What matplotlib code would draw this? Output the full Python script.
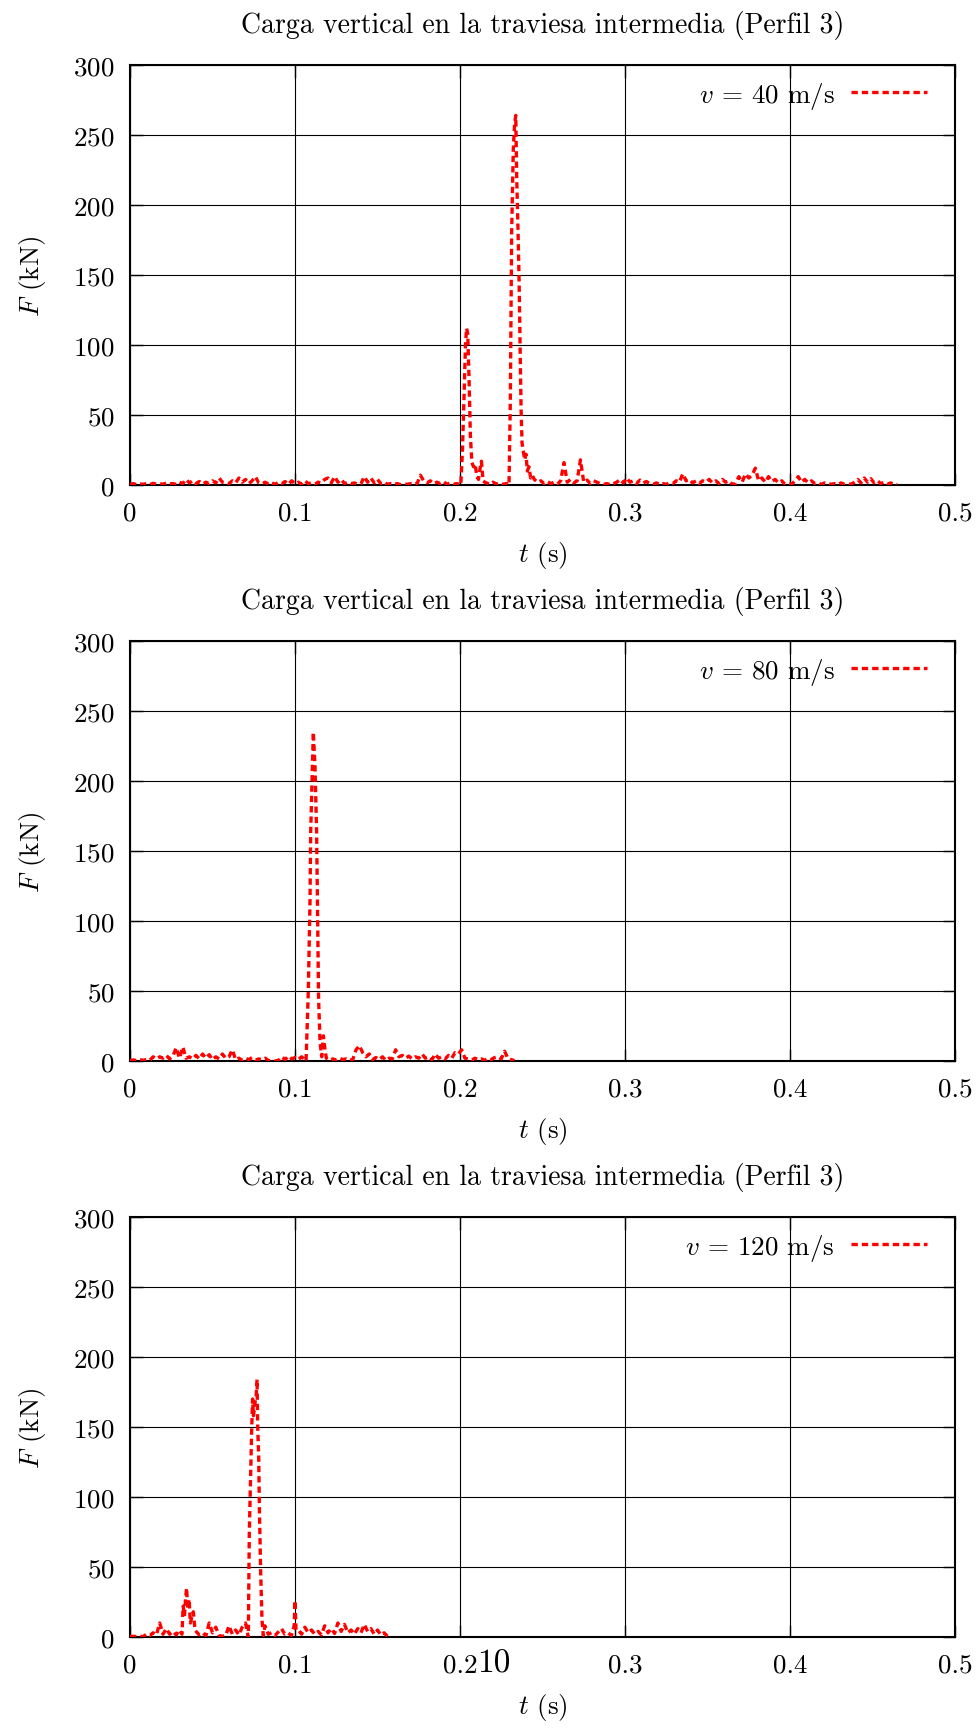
import numpy as np
import matplotlib
matplotlib.use("Agg")
import matplotlib.pyplot as plt

plt.rcParams["font.family"] = "cmr10"
plt.rcParams["mathtext.fontset"] = "cm"
plt.rcParams["axes.formatter.use_mathtext"] = True
plt.rcParams["axes.unicode_minus"] = False

# ============================
# DATA
# ============================
STEP = 0.002   # spacing of the low-level noise samples (s)

# --- v = 40 m/s ---
p1_noise_a = [0.5, 1, 0.3, 0.8, 0.5, 1, 0.3, 1.2, 0.6, 1,
              0.5, 1.5, 0.8, 1, 0.5, 2, 1, 4, 1.5, 3,
              1, 2.5, 0.8, 2, 1, 3, 1.5, 5, 2, 1.5,
              1, 3, 1.5, 5, 2, 4, 1, 3, 6, 1.5,
              1, 2, 0.5, 1.5, 0.5, 2, 1, 2.5, 0.5, 3,
              1, 2, 0.5, 3, 1, 1.5, 0.5, 2, 1.5, 4,
              5, 1.5, 6, 2, 4, 1, 2, 1, 1.5, 0.5,
              1, 6, 2, 5, 1.5, 4, 1, 2, 0.5, 1,
              0.5, 1, 0.3, 0.8, 0.5, 1, 0.5, 1, 7, 3,
              1.5, 3, 1, 2, 1, 2.5, 0.5, 1.5, 0.5, 1]
p1_peak1_t = [0.2005, 0.2015, 0.2025, 0.2033, 0.2040, 0.2047, 0.2055, 0.2063, 0.2072,
              0.2082, 0.2092, 0.2102, 0.2112, 0.2122, 0.2130, 0.2140, 0.2150]
p1_peak1_f = [0, 25, 65, 100, 112, 108, 75, 35, 16, 13, 15, 6, 4, 12, 17, 3, 2]
p1_noise_b = [1.5, 0.5, 2, 0.8, 1.5, 0.5, 1]
p1_peak2_t = [0.2297, 0.2305, 0.2313, 0.2323, 0.2331, 0.2338, 0.2344, 0.2352, 0.2358,
              0.2364, 0.2370, 0.2376, 0.2384, 0.2392, 0.2400, 0.2408, 0.2418, 0.2428, 0.2438]
p1_peak2_f = [0, 60, 180, 240, 258, 264, 218, 180, 147, 100, 55, 30, 24, 18, 22, 10, 13, 5, 7]
p1_noise_c = [4, 2, 3, 1, 2.5, 1, 2, 0.5, 3, 16,
              2, 4, 1.5, 3, 18, 2, 3.5, 1, 3, 2,
              1, 0.5, 1, 0.3, 1, 2, 4, 1.5, 5, 2,
              3, 1, 3.5, 1.5, 2.5, 1, 0.5, 1.5, 0.5, 1,
              0.5, 1.5, 1, 3, 2, 8, 3, 4, 1.5, 3,
              1, 3, 2, 4, 1.5, 3, 1, 4, 2, 3,
              0.5, 1, 6, 2, 8, 5, 7, 12, 3, 5,
              2, 6, 2.5, 4, 1.5, 3, 0.5, 1, 0.5, 3,
              6, 2, 4, 1.5, 3, 1, 1.5, 0.5, 1.5, 1,
              0.5, 1, 0.5, 1.5, 0.5, 1, 0.5, 2, 4, 1.5,
              5, 2, 4.5, 1.5, 3, 1, 2, 0.5, 1.5, 0.5,
              0.3]

# --- v = 80 m/s ---
p2_noise_a = [0.3, 0.8, 0.3, 1, 0.5, 1, 0.5, 3, 1.5, 3,
              2, 4, 1.5, 3.5, 9.5, 2, 10, 2, 3, 1.5,
              4, 1.5, 5, 2, 4.5, 1, 3, 1.5, 5, 2,
              3, 8, 1, 2, 0.5, 2, 1, 2.5, 0.5, 1.5,
              1, 2, 0.3, 0, 0, 0.5, 3, 1, 3.5, 1.5,
              2.5, 1, 3]
p2_peak_t = [0.1067, 0.1081, 0.1091, 0.1095, 0.1103, 0.1111, 0.1121, 0.1131, 0.1137,
             0.1143, 0.1152, 0.1162, 0.1172, 0.1182]
p2_peak_f = [0, 51, 115, 163, 199, 235, 211, 163, 104, 44, 13, 3, 18, 8]
p2_noise_b = [2, 0.5, 1.5, 0.5, 2, 1, 1.5, 0.5, 1, 8,
              11, 6, 3, 5, 1, 2.5, 1, 3, 0.5, 2,
              1.5, 8, 3, 4, 2, 3.5, 1.5, 3, 2, 5,
              2, 3, 1, 5, 2, 3, 1.5, 4, 2, 6,
              5, 8, 2, 1.5, 0.5, 2, 1, 1.5, 0.5, 2,
              1, 2.5, 3, 1.5, 7, 2, 1, 0.3]

# --- v = 120 m/s ---
p3_noise_a = [0.3, 0.5, 0.3, 0.5, 0.3, 2, 1, 3, 1.5, 10, 2, 6, 2, 4, 1.5, 5]
p3_peak1_t = [0.0315, 0.0322, 0.0330, 0.0337, 0.0343, 0.0350, 0.0358, 0.0366, 0.0374,
              0.0384, 0.0394]
p3_peak1_f = [2, 22, 15, 28, 35, 20, 27, 10, 14, 18, 5]
p3_noise_b = [4, 1.5, 3, 1, 10, 3, 7, 1, 0.5, 1, 8, 2, 5, 1.5, 7, 10]
p3_peak2_t = [0.0717, 0.0723, 0.0731, 0.0737, 0.0743, 0.0748, 0.0753, 0.0758, 0.0764,
              0.0770, 0.0774, 0.0780, 0.0784, 0.0792, 0.0800, 0.0808]
p3_peak2_f = [0, 74, 115, 146, 170, 158, 162, 168, 171, 184, 150, 129, 93, 46, 12, 1]
p3_noise_c = [8, 2, 3, 1, 3.5, 6, 2, 3, 1]
p3_spike_t = [0.0995, 0.1000, 0.1006]
p3_spike_f = [8, 26, 5]
p3_noise_d = [5, 2, 7, 3, 5, 2, 4, 1.5, 8, 3,
              6, 2.5, 10, 4, 9, 3, 5, 2, 6, 3,
              9, 4, 6, 2, 5, 1.5, 3, 0.5]

speeds = [40, 80, 120]


def even(t0, vals):
    return t0 + STEP * np.arange(len(vals)), np.asarray(vals, dtype=float)


def join(*parts):
    t = np.concatenate([np.asarray(p[0], dtype=float) for p in parts])
    f = np.concatenate([np.asarray(p[1], dtype=float) for p in parts])
    return t, f


series = [
    join(even(0.0, p1_noise_a), (p1_peak1_t, p1_peak1_f), even(0.216, p1_noise_b),
         (p1_peak2_t, p1_peak2_f), even(0.245, p1_noise_c)),
    join(even(0.0, p2_noise_a), (p2_peak_t, p2_peak_f), even(0.119, p2_noise_b)),
    join(even(0.0, p3_noise_a), (p3_peak1_t, p3_peak1_f), even(0.040, p3_noise_b),
         (p3_peak2_t, p3_peak2_f), even(0.0818, p3_noise_c), (p3_spike_t, p3_spike_f),
         even(0.102, p3_noise_d)),
]

# ============================
# PLOT
# ============================
W, H = 978, 1731
fig = plt.figure(figsize=(W / 100, H / 100), dpi=100)

tops = [66, 642, 1218]
ax_h = 420
FS = 19.5

for (t, f), v, top in zip(series, speeds, tops):
    ax = fig.add_axes([130 / W, 1 - (top + ax_h) / H, 825 / W, ax_h / H])
    ax.plot(t, f, color="red", lw=2.4, dashes=(1.9, 1.2), dash_capstyle="butt",
            label=rf"$v$ = {v} m/s", zorder=3)
    ax.set_xlim(0, 0.5)
    ax.set_ylim(0, 300)
    ax.set_xticks(np.arange(0, 0.51, 0.1))
    ax.set_xticklabels(["0", "0.1", "0.2", "0.3", "0.4", "0.5"])
    ax.set_yticks(np.arange(0, 301, 50))
    ax.grid(True, color="black", lw=0.8)
    ax.tick_params(direction="in", length=9, width=1.0, top=True, right=True,
                   labelsize=FS)
    ax.tick_params(axis="y", pad=11)
    ax.tick_params(axis="x", pad=11)
    for s in ax.spines.values():
        s.set_linewidth(1.5)
    ax.set_xlabel(r"$t$ (s)", fontsize=FS, labelpad=11)
    ax.set_ylabel(r"$F$ (kN)", fontsize=FS, labelpad=18)
    ax.set_title("Carga vertical en la traviesa intermedia (Perfil 3)",
                 fontsize=20, pad=24)
    ax.legend(loc="upper right", bbox_to_anchor=(0.966, 0.965), borderpad=0,
              borderaxespad=0, frameon=False, markerfirst=False, fontsize=FS,
              handlelength=2.8, handletextpad=0.6)

# stray page number from the original document
fig.text(494 / W, 1 - 1664 / H, "10", fontsize=24, ha="center", va="center")

fig.savefig("out.png", dpi=100)
